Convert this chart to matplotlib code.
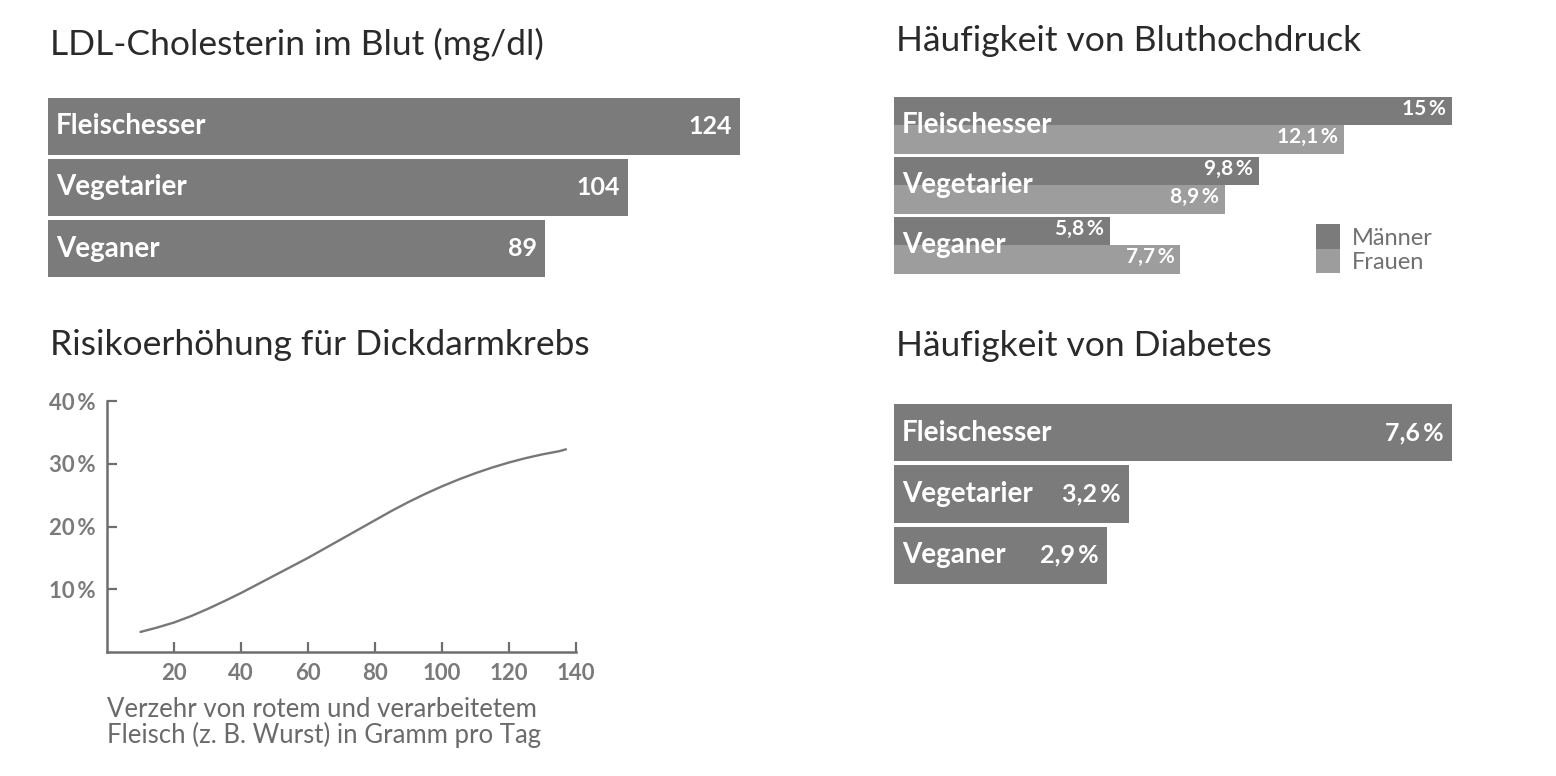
import matplotlib
matplotlib.use("Agg")
import matplotlib.pyplot as plt
from matplotlib.patches import Patch

plt.rcParams['font.family'] = ['Lato', 'DejaVu Sans']

# ---------------- data ----------------
groups = ["Fleischesser", "Vegetarier", "Veganer"]
ldl_values = [124, 104, 89]
ldl_labels = ["124", "104", "89"]

bp_men = [15.0, 9.8, 5.8]
bp_women = [12.1, 8.9, 7.7]
bp_men_labels = ["15\u2009%", "9,8\u2009%", "5,8\u2009%"]
bp_women_labels = ["12,1\u2009%", "8,9\u2009%", "7,7\u2009%"]
legend_labels = ["Männer", "Frauen"]

diab_values = [7.6, 3.2, 2.9]
diab_labels = ["7,6\u2009%", "3,2\u2009%", "2,9\u2009%"]

meat_g = [10, 15, 20, 25, 30, 35, 40, 45, 50, 55, 60, 65, 70, 75, 80, 85, 90,
          95, 100, 105, 110, 115, 120, 125, 130, 135, 137]
risk_pct = [3.2, 3.9, 4.7, 5.7, 6.85, 8.1, 9.4, 10.8, 12.2, 13.6, 15.0, 16.5, 18.0,
            19.5, 21.0, 22.5, 23.9, 25.2, 26.4, 27.5, 28.5, 29.4, 30.2, 30.9, 31.5,
            32.0, 32.3]
x_ticks = [20, 40, 60, 80, 100, 120, 140]
y_ticks = [10, 20, 30, 40]
y_tick_labels = ["10\u2009%", "20\u2009%", "30\u2009%", "40\u2009%"]

titles = ["LDL-Cholesterin im Blut (mg/dl)", "Häufigkeit von Bluthochdruck",
          "Risikoerhöhung für Dickdarmkrebs", "Häufigkeit von Diabetes"]
xlabel = "Verzehr von rotem und verarbeitetem\nFleisch (z. B. Wurst) in Gramm pro Tag"

# ---------------- style ----------------
DARK = "#7b7b7b"
LIGHT = "#9d9d9d"
TITLE_C = "#2a2a2a"
AXIS_C = "#6e6e6e"
TICK_C = "#7a7a7a"
LABEL_FS = 20
VAL_FS = 18
SMALL_FS = 15

W, H = 1556, 776
fig = plt.figure(figsize=(W / 100, H / 100), dpi=100)
fig.patch.set_facecolor("white")


def ax_at(l, t, r, b):
    return fig.add_axes([l / W, 1 - b / H, (r - l) / W, (b - t) / H])


def px(p):  # pixels -> points
    return p * 72 / 100


# titles
title_pos = [(50, 44), (896, 41), (50, 345), (896, 346)]
for t, (x, y) in zip(titles, title_pos):
    fig.text(x / W, 1 - y / H, t, ha="left", va="center", fontsize=25.5, color=TITLE_C)

# ---------------- panel 1: LDL ----------------
ax1 = ax_at(48, 96, 740, 279)
ax1.barh(range(3), ldl_values, height=0.93, color=DARK)
ax1.set_xlim(0, 124)
ax1.set_ylim(2.5, -0.5)
ax1.axis("off")
for i, (g, v, lab) in enumerate(zip(groups, ldl_values, ldl_labels)):
    ax1.annotate(g, (0, i), xytext=(px(8), 0), textcoords="offset points",
                 ha="left", va="center", fontsize=LABEL_FS, fontweight="bold", color="white")
    ax1.annotate(lab, (v, i), xytext=(px(-8), 0), textcoords="offset points",
                 ha="right", va="center", fontsize=VAL_FS, fontweight="bold", color="white")

# ---------------- panel 2: blood pressure ----------------
ax2 = ax_at(894, 95, 1452, 275)
bh = 0.475
ypos = list(range(3))
ax2.barh([y - bh / 2 for y in ypos], bp_men, height=bh, color=DARK)
ax2.barh([y + bh / 2 for y in ypos], bp_women, height=bh, color=LIGHT)
ax2.set_xlim(0, 15)
ax2.set_ylim(2.5, -0.5)
ax2.axis("off")
for i, g in enumerate(groups):
    ax2.annotate(g, (0, i), xytext=(px(8), 0), textcoords="offset points",
                 ha="left", va="center", fontsize=LABEL_FS, fontweight="bold", color="white")
    ax2.annotate(bp_men_labels[i], (bp_men[i], i - bh / 2), xytext=(px(-6), px(2)),
                 textcoords="offset points", ha="right", va="center",
                 fontsize=SMALL_FS, fontweight="bold", color="white")
    ax2.annotate(bp_women_labels[i], (bp_women[i], i + bh / 2), xytext=(px(-6), px(2)),
                 textcoords="offset points", ha="right", va="center",
                 fontsize=SMALL_FS, fontweight="bold", color="white")

handles = [Patch(facecolor=DARK, edgecolor="none"), Patch(facecolor=LIGHT, edgecolor="none")]
fs_leg = 17
fs_px = fs_leg * 100 / 72
leg = ax2.legend(handles, legend_labels, loc="lower left",
                 bbox_to_anchor=(1316 / W, 1 - 273 / H), bbox_transform=fig.transFigure,
                 frameon=False, borderpad=0, borderaxespad=0, labelspacing=0,
                 handleheight=28.5 / fs_px, handlelength=24 / fs_px,
                 handletextpad=12 / fs_px, fontsize=fs_leg)
for t in leg.get_texts():
    t.set_color("#707070")

# ---------------- panel 3: line ----------------
ax3 = ax_at(107, 401, 107 + 141 * 3.35, 652)
ax3.plot(meat_g, risk_pct, color="#777777", lw=1.7, solid_capstyle="round")
ax3.set_xlim(0, 141)
ax3.set_ylim(0, 40)
for s in ["top", "right"]:
    ax3.spines[s].set_visible(False)
for s in ["left", "bottom"]:
    ax3.spines[s].set_color(AXIS_C)
    ax3.spines[s].set_linewidth(1.8)
ax3.spines["bottom"].set_bounds(0, 140)
ax3.set_xticks(x_ticks)
ax3.set_xticklabels([str(v) for v in x_ticks])
ax3.set_yticks(y_ticks)
ax3.set_yticklabels(y_tick_labels)
ax3.tick_params(direction="in", length=7, width=1.6, color=AXIS_C,
                labelcolor=TICK_C, labelsize=16, pad=8)
for lab in ax3.get_xticklabels() + ax3.get_yticklabels():
    lab.set_fontweight("bold")
ax3.set_xlabel(xlabel, x=0, ha="left", fontsize=18.5, color="#6a6a6a",
               labelpad=9, linespacing=1.0)
ax3.patch.set_alpha(0)

# ---------------- panel 4: diabetes ----------------
ax4 = ax_at(894, 402, 1452, 586)
ax4.barh(range(3), diab_values, height=0.93, color=DARK)
ax4.set_xlim(0, 7.6)
ax4.set_ylim(2.5, -0.5)
ax4.axis("off")
for i, (g, v, lab) in enumerate(zip(groups, diab_values, diab_labels)):
    ax4.annotate(g, (0, i), xytext=(px(8), 0), textcoords="offset points",
                 ha="left", va="center", fontsize=LABEL_FS, fontweight="bold", color="white")
    ax4.annotate(lab, (v, i), xytext=(px(-8), 0), textcoords="offset points",
                 ha="right", va="center", fontsize=VAL_FS, fontweight="bold", color="white")

fig.savefig("out.png", dpi=100, facecolor="white")
